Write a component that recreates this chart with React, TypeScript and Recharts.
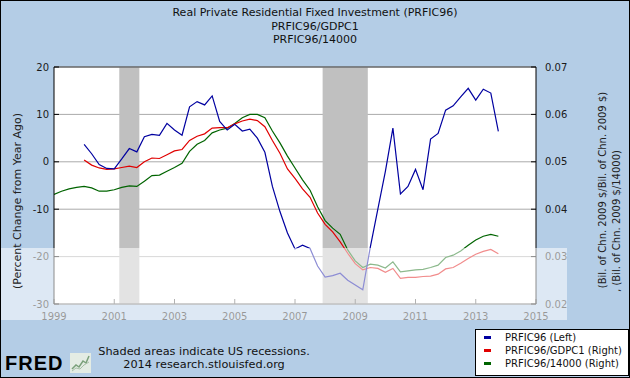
import React from 'react';
import { ComposedChart, Line, XAxis, YAxis, CartesianGrid, ReferenceArea, ReferenceLine } from 'recharts';

const quarters = [
  '1999Q1', '1999Q2', '1999Q3', '1999Q4', '2000Q1', '2000Q2', '2000Q3', '2000Q4',
  '2001Q1', '2001Q2', '2001Q3', '2001Q4', '2002Q1', '2002Q2', '2002Q3', '2002Q4',
  '2003Q1', '2003Q2', '2003Q3', '2003Q4', '2004Q1', '2004Q2', '2004Q3', '2004Q4',
  '2005Q1', '2005Q2', '2005Q3', '2005Q4', '2006Q1', '2006Q2', '2006Q3', '2006Q4',
  '2007Q1', '2007Q2', '2007Q3', '2007Q4', '2008Q1', '2008Q2', '2008Q3', '2008Q4',
  '2009Q1', '2009Q2', '2009Q3', '2009Q4', '2010Q1', '2010Q2', '2010Q3', '2010Q4',
  '2011Q1', '2011Q2', '2011Q3', '2011Q4', '2012Q1', '2012Q2', '2012Q3', '2012Q4',
  '2013Q1', '2013Q2', '2013Q3', '2013Q4',
];

// PRFIC96, percent change from year ago (left axis)
const prfic96 = [
  null, null, null, null,
  3.7, 1.7, -0.6, -1.4, -1.5, 0.6, 2.8, 2.1, 5.3, 5.8, 5.6, 8.1,
  6.7, 5.6, 11.6, 12.7, 12.0, 13.9, 8.5, 6.7, 7.9, 6.5, 6.9, 5.0,
  2.0, -5.2, -10.5, -15.0, -18.4, -17.6, -18.3, -22.0, -24.3, -24.0, -23.5, -25.0,
  -26.0, -27.0, -18.0, -10.0, -2.0, 7.1, -6.8, -5.2, -1.6, -5.9, 4.8, 6.0,
  10.9, 11.8, 13.7, 15.5, 13.0, 15.3, 14.5, 6.4,
];

// PRFIC96/GDPC1 (right axis)
const prfic96Gdp = [
  null, null, null, null,
  0.0504, 0.0493, 0.0487, 0.0484, 0.0485, 0.0488, 0.0491, 0.0488, 0.0500, 0.0508, 0.0507, 0.0515,
  0.0523, 0.0526, 0.0545, 0.0554, 0.0559, 0.0571, 0.0572, 0.0572, 0.0580, 0.0586, 0.0590, 0.0587,
  0.0574, 0.0545, 0.0518, 0.0485, 0.0465, 0.0443, 0.0425, 0.0392, 0.0368, 0.0352, 0.0331, 0.0307,
  0.0285, 0.0272, 0.0277, 0.0275, 0.0267, 0.0275, 0.0254, 0.0256, 0.0256, 0.0258, 0.0259, 0.0263,
  0.0274, 0.0277, 0.0286, 0.0296, 0.0305, 0.0311, 0.0315, 0.0306,
];

// PRFIC96/14000 (right axis)
const prfic96Scaled = [
  0.0431, 0.0438, 0.0443, 0.0446,
  0.0448, 0.0445, 0.0438, 0.0438, 0.0441, 0.0446, 0.0449, 0.0448, 0.0459, 0.0471, 0.0472, 0.0480,
  0.0488, 0.0497, 0.0522, 0.0537, 0.0545, 0.0561, 0.0567, 0.0571, 0.0581, 0.0593, 0.0600, 0.0600,
  0.0593, 0.0565, 0.0540, 0.0512, 0.0487, 0.0462, 0.0440, 0.0405, 0.0376, 0.0360, 0.0347, 0.0314,
  0.0291, 0.0277, 0.0284, 0.0282, 0.0276, 0.0289, 0.0268, 0.0270, 0.0272, 0.0273, 0.0277, 0.0282,
  0.0298, 0.0303, 0.0312, 0.0324, 0.0335, 0.0343, 0.0347, 0.0343,
];

const yearTicks = [1999, 2001, 2003, 2005, 2007, 2009, 2011, 2013, 2015];
const leftTicks = [-30, -20, -10, 0, 10, 20];
const rightTicks = [0.02, 0.03, 0.04, 0.05, 0.06, 0.07];
const recessionStarts = ['2001-03', '2007-12'];
const recessionEnds = ['2001-11', '2009-06'];

const quarterToYear = (q: string) => Number(q.slice(0, 4)) + (Number(q.slice(5)) - 1) / 4;
const monthToYear = (m: string) => Number(m.slice(0, 4)) + (Number(m.slice(5)) - 1) / 12;

const data = quarters.map((q, i) => ({
  t: quarterToYear(q),
  pct: prfic96[i],
  gdp: prfic96Gdp[i],
  scaled: prfic96Scaled[i],
}));

const font = '"DejaVu Sans", sans-serif';
const tickStyle = { fontSize: 10, fill: '#1a1a1a', fontFamily: font };

const legendItems = [
  { label: 'PRFIC96 (Left)', color: '#0000a0' },
  { label: 'PRFIC96/GDPC1 (Right)', color: '#e00000' },
  { label: 'PRFIC96/14000 (Right)', color: '#006400' },
];

export default function App() {
  return (
    <div style={{ position: 'fixed', left: 0, top: 0, width: 630, height: 378, background: '#b4cde6', boxSizing: 'border-box', border: '1px solid #000', fontFamily: font, overflow: 'hidden' }}>
      <div style={{ position: 'absolute', left: -1, top: -1 }}>
        <ComposedChart width={630} height={378} data={data} margin={{ top: 67, right: 0, bottom: 0, left: 0 }}>
          <CartesianGrid yAxisId="left" vertical={false} stroke="#aaaaaa" fill="#ffffff" />
          {recessionStarts.map((s, i) => (
            <ReferenceArea key={s} yAxisId="left" x1={monthToYear(s)} x2={monthToYear(recessionEnds[i])} fill="#c0c0c0" fillOpacity={1} stroke="none" />
          ))}
          <ReferenceLine yAxisId="left" y={20} stroke="#444" />
          <XAxis dataKey="t" type="number" domain={[1999, 2015]} ticks={yearTicks} height={74}
            tick={tickStyle} tickSize={-5} tickMargin={14} stroke="#555" allowDataOverflow />
          <YAxis yAxisId="left" domain={[-30, 20]} ticks={leftTicks} width={54}
            tick={tickStyle} tickSize={-5} tickMargin={10} stroke="#000" allowDataOverflow />
          <YAxis yAxisId="right" orientation="right" domain={[0.02, 0.07]} ticks={rightTicks} width={94}
            tick={tickStyle} tickSize={-5} tickMargin={14} stroke="#000" tickFormatter={(v: number) => v.toFixed(2)} allowDataOverflow />
          <Line yAxisId="right" dataKey="scaled" stroke="#006400" strokeWidth={1.2} dot={false} isAnimationActive={false} />
          <Line yAxisId="right" dataKey="gdp" stroke="#e00000" strokeWidth={1.2} dot={false} isAnimationActive={false} />
          <Line yAxisId="left" dataKey="pct" stroke="#0000a0" strokeWidth={1.2} dot={false} isAnimationActive={false} />
        </ComposedChart>
      </div>

      {/* washed-out band across the lower part of the picture */}
      <div style={{ position: 'absolute', left: 0, top: 247, width: 566, height: 72, background: 'rgba(255,255,255,0.55)' }} />

      <div style={{ position: 'absolute', left: 0, top: 5, width: 628, textAlign: 'center', fontSize: 11, lineHeight: '13.5px', color: '#111' }}>
        <div>Real Private Residential Fixed Investment (PRFIC96)</div>
        <div>PRFIC96/GDPC1</div>
        <div>PRFIC96/14000</div>
      </div>

      <div style={{ position: 'absolute', left: 16, top: 200, transform: 'translate(-50%, -50%) rotate(-90deg)', whiteSpace: 'nowrap', fontSize: 11, color: '#222' }}>
        (Percent Change from Year Ago)
      </div>
      <div style={{ position: 'absolute', left: 601, top: 189, transform: 'translate(-50%, -50%) rotate(-90deg)', whiteSpace: 'nowrap', fontSize: 10, color: '#222' }}>
        (Bil. of Chn. 2009 $/Bil. of Chn. 2009 $)
      </div>
      <div style={{ position: 'absolute', left: 615, top: 220, transform: 'translate(-50%, -50%) rotate(-90deg)', whiteSpace: 'nowrap', fontSize: 10, color: '#222' }}>
        , (Bil. of Chn. 2009 $/14000)
      </div>

      <div style={{ position: 'absolute', left: 4, top: 350, fontFamily: '"Liberation Sans", Arial, sans-serif', fontWeight: 900, fontSize: 20, letterSpacing: 1, color: '#000', lineHeight: '24px' }}>FRED</div>
      <svg style={{ position: 'absolute', left: 69, top: 352 }} width={21} height={20}>
        <rect x={0} y={0} width={21} height={20} fill="#e4ece4" />
        <polyline points="2,16 6,12 9,14 13,8 16,10 19,3" fill="none" stroke="#7aa07a" strokeWidth={1.5} />
        <polyline points="2,18 6,15 10,16 14,12 19,9" fill="none" stroke="#a8c0a8" strokeWidth={1} />
      </svg>

      <div style={{ position: 'absolute', left: 78, top: 345, width: 250, textAlign: 'center', fontSize: 11.3, lineHeight: '12.5px', color: '#111' }}>
        <div>Shaded areas indicate US recessions.</div>
        <div>2014 research.stlouisfed.org</div>
      </div>

      <div style={{ position: 'absolute', left: 474, top: 328, width: 154, height: 47, boxSizing: 'border-box', background: '#fff', border: '1px solid #000', padding: '1.5px 0 0 8px' }}>
        {legendItems.map((it) => (
          <div key={it.label} style={{ display: 'flex', alignItems: 'center', height: 12.8, fontSize: 10, color: '#111' }}>
            <span style={{ display: 'inline-block', width: 7, height: 3, background: it.color, marginRight: 14 }} />
            <span>{it.label}</span>
          </div>
        ))}
      </div>
    </div>
  );
}
